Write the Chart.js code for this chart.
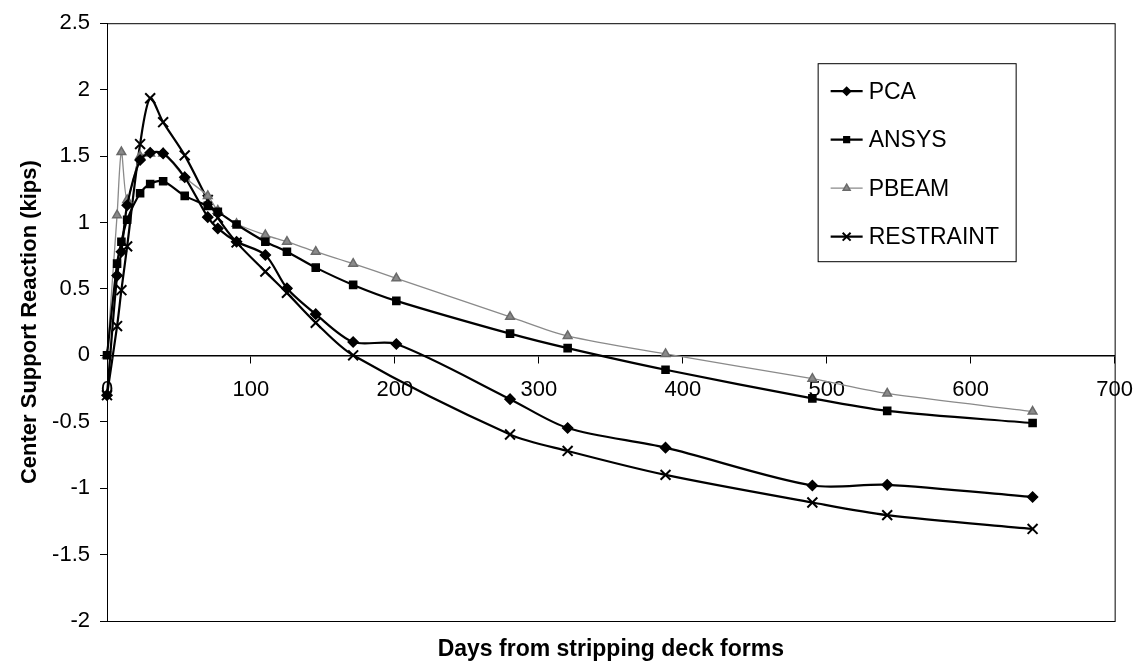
<!DOCTYPE html>
<html>
<head>
<meta charset="utf-8">
<script src="https://cdn.jsdelivr.net/npm/chart.js@4/dist/chart.umd.min.js"></script>
<style>
  html, body { margin: 0; padding: 0; background: #fff; }
  #wrap { width: 1147px; height: 663px; }
</style>
</head>
<body>
<div id="wrap"><canvas id="myChart"></canvas></div>
<script>
const FONT = '"Liberation Sans", Arial, sans-serif'

// days after stripping the deck forms
const days = [0, 7, 10, 14, 23, 30, 39, 54, 70, 77, 90, 110, 125, 145, 171, 201, 280, 320, 388, 490, 542, 643]

const pca       = [-0.3, 0.6, 0.78, 1.13, 1.47, 1.525, 1.52, 1.34, 1.04, 0.955, 0.855, 0.755, 0.505, 0.31, 0.10, 0.085, -0.33, -0.547, -0.695, -0.98, -0.975, -1.067]
const ansys     = [0, 0.69, 0.855, 1.02, 1.22, 1.29, 1.31, 1.2, 1.125, 1.08, 0.985, 0.855, 0.78, 0.66, 0.53, 0.41, 0.163, 0.054, -0.109, -0.324, -0.418, -0.51]
const pbeam     = [0, 1.055, 1.53, 1.17, 1.5, 1.52, 1.52, 1.34, 1.2, 1.09, 0.99, 0.905, 0.855, 0.78, 0.69, 0.58, 0.29, 0.146, 0.01, -0.176, -0.287, -0.423]
const restraint = [-0.3, 0.22, 0.49, 0.82, 1.59, 1.935, 1.755, 1.505, 1.17, 1.035, 0.85, 0.63, 0.47, 0.245, 0.0, null, -0.596, -0.72, -0.9, -1.108, -1.203, -1.307]

const xTicks = [0, 100, 200, 300, 400, 500, 600, 700]
const yTicks = [-2, -1.5, -1, -0.5, 0, 0.5, 1, 1.5, 2, 2.5]

const toPoints = vals => days.map((d, i) => ({ x: d, y: vals[i] }))

// legend box drawn inside the plot, like the original
const boxLegend = {
  id: 'boxLegend',
  afterDraw(chart) {
    const { ctx, chartArea } = chart
    ctx.save()
    ctx.strokeStyle = '#000'
    ctx.lineWidth = 1
    ctx.strokeRect(chartArea.left + 0.5, chartArea.top + 0.5, chartArea.width, chartArea.height)

    const bx = chartArea.right - 297
    const by = chartArea.top + 40
    ctx.fillStyle = '#fff'
    ctx.fillRect(bx, by, 198, 198)
    ctx.strokeRect(bx + 0.5, by + 0.5, 198, 198)

    chart.data.datasets.forEach((ds, i) => {
      const y = by + 28 + i * 48.5
      ctx.strokeStyle = ds.borderColor
      ctx.lineWidth = ds.borderWidth
      ctx.beginPath()
      ctx.moveTo(bx + 13, y)
      ctx.lineTo(bx + 45, y)
      ctx.stroke()
      ctx.fillStyle = ds.pointBackgroundColor
      ctx.strokeStyle = ds.pointBorderColor
      ctx.lineWidth = ds.pointBorderWidth || 1
      Chart.helpers.drawPoint(ctx, {
        pointStyle: ds.pointStyle,
        radius: ds.pointRadius * 0.8,
        borderWidth: ds.pointBorderWidth || 1,
        rotation: 0
      }, bx + 29, y)
      ctx.fillStyle = '#000'
      ctx.font = '23px ' + FONT
      ctx.textBaseline = 'middle'
      ctx.textAlign = 'left'
      ctx.fillText(ds.label, bx + 51, y + 1)
    })
    ctx.restore()
  }
}

const common = {
  tension: 0.3,
  spanGaps: true,
  clip: false,
  pointBorderWidth: 1.5
}

new Chart(document.getElementById('myChart').getContext('2d'), {
  type: 'line',
  data: {
    datasets: [
      { ...common, label: 'PCA', data: toPoints(pca), borderColor: '#000', backgroundColor: '#000',
        pointBackgroundColor: '#000', pointBorderColor: '#000', borderWidth: 2.2, pointStyle: 'rectRot', pointRadius: 5 },
      { ...common, label: 'ANSYS', data: toPoints(ansys), borderColor: '#000', backgroundColor: '#000',
        pointBackgroundColor: '#000', pointBorderColor: '#000', borderWidth: 2.2, pointStyle: 'rect', pointRadius: 5 },
      { ...common, label: 'PBEAM', data: toPoints(pbeam), borderColor: '#8a8a8a', backgroundColor: '#8a8a8a',
        pointBackgroundColor: '#8a8a8a', pointBorderColor: '#6a6a6a', borderWidth: 1.3, pointStyle: 'triangle', pointRadius: 5 },
      { ...common, label: 'RESTRAINT', data: toPoints(restraint), borderColor: '#000', backgroundColor: '#000',
        pointBackgroundColor: '#000', pointBorderColor: '#000', borderWidth: 2.2, pointStyle: 'crossRot', pointRadius: 7, pointBorderWidth: 2 }
    ]
  },
  options: {
    responsive: true,
    maintainAspectRatio: false,
    animation: false,
    layout: { padding: { top: 15, right: 30, left: 0, bottom: 0 } },
    plugins: {
      legend: { display: false },
      tooltip: { enabled: false }
    },
    scales: {
      x: {
        type: 'linear',
        position: { y: 0 },
        min: 0,
        max: 700,
        afterBuildTicks: scale => { scale.ticks = xTicks.map(v => ({ value: v })) },
        grid: { drawOnChartArea: false, tickLength: 7, color: '#000' },
        border: { display: true, color: '#000', width: 1.5 },
        ticks: { color: '#000', padding: 14, maxRotation: 0, font: { family: FONT, size: 22 } }
      },
      x2: {
        type: 'linear',
        position: 'bottom',
        min: 0,
        max: 700,
        grid: { display: false },
        border: { display: false },
        ticks: { display: false },
        title: {
          display: true,
          text: 'Days from stripping deck forms',
          color: '#000',
          padding: { top: 0, bottom: 0 },
          font: { family: FONT, size: 23, weight: 'bold' }
        },
        afterFit: scale => { scale.height = 42 }
      },
      y: {
        type: 'linear',
        min: -2,
        max: 2.5,
        afterBuildTicks: scale => { scale.ticks = yTicks.map(v => ({ value: v })) },
        grid: { drawOnChartArea: false, tickLength: 7, color: '#000' },
        border: { display: true, color: '#000', width: 1 },
        ticks: { color: '#000', padding: 10, callback: v => String(v), font: { family: FONT, size: 22 } },
        title: {
          display: true,
          text: 'Center Support Reaction (kips)',
          color: '#000',
          padding: { top: 17, bottom: 0 },
          font: { family: FONT, size: 22, weight: 'bold' }
        },
        afterFit: scale => { scale.width = 107 }
      }
    }
  },
  plugins: [boxLegend]
})
</script>
</body>
</html>
